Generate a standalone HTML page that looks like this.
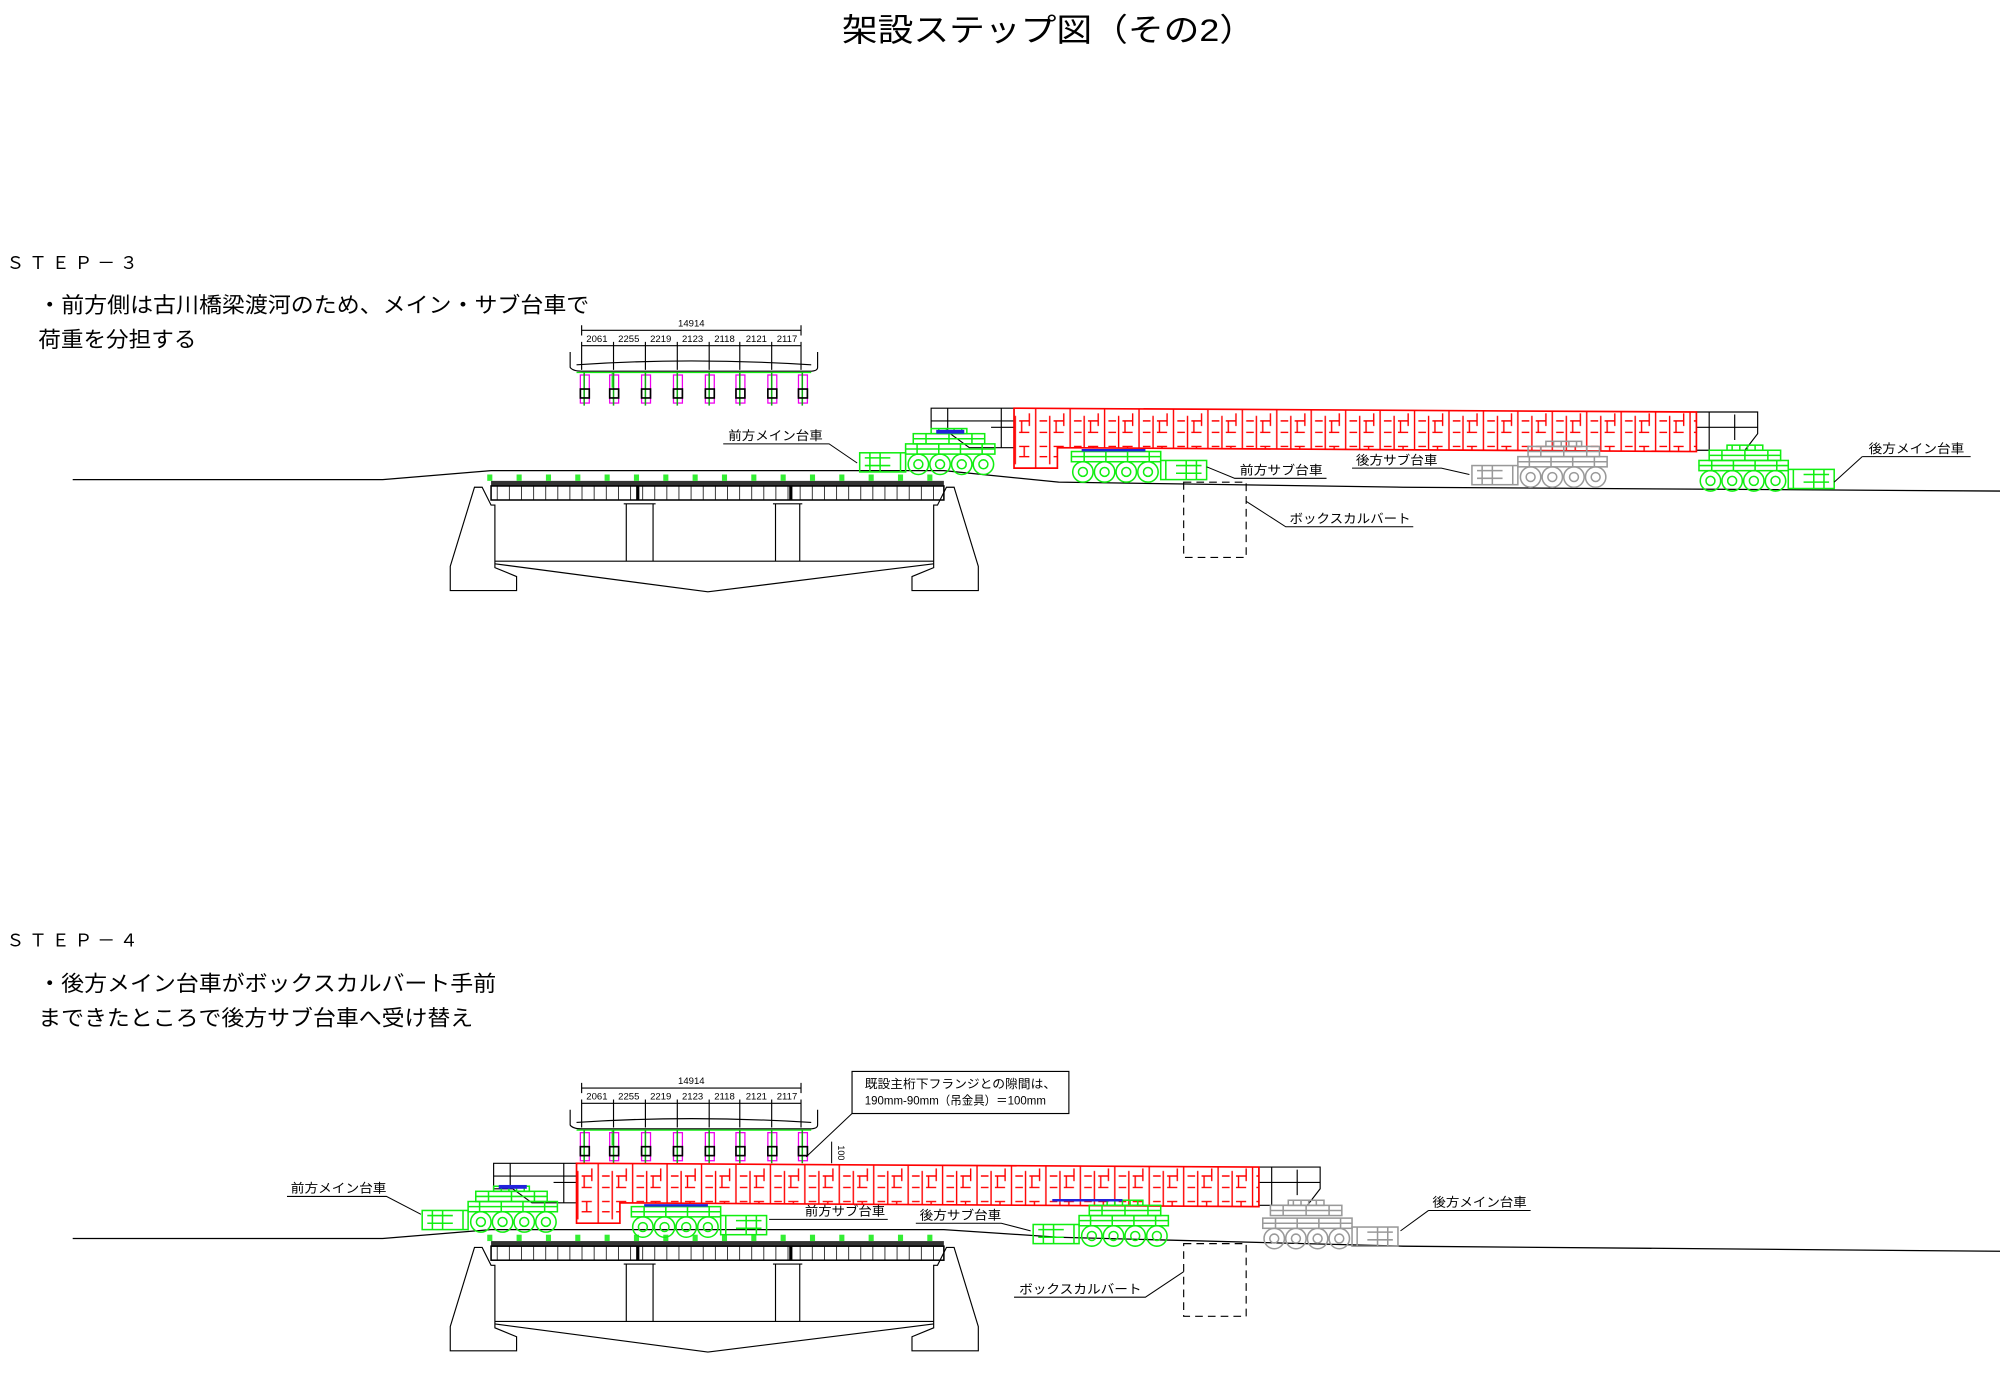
<!DOCTYPE html>
<html><head><meta charset="utf-8"><style>
html,body{margin:0;padding:0;background:#fff;}
svg{display:block;}
text{font-family:"Liberation Sans","Noto Sans CJK JP",sans-serif;fill:#000;}
</style></head><body>
<svg width="2000" height="1381" viewBox="0 0 1568 1082.7" xmlns="http://www.w3.org/2000/svg">
<defs>
<pattern id="rp" width="27" height="46" patternUnits="userSpaceOnUse">
 <g stroke="#f00" stroke-width="1.1" fill="none">
  <path d="M2 0V46M13 4V42M5 8H11M5 17H11M16 8H24M16 17H24M18 8V17M5 28H11M16 28H24M5 36H11M16 36H24M20 28V36M24 2V12"/>
 </g>
</pattern>
<pattern id="dk" width="9.5" height="20" patternUnits="userSpaceOnUse">
 <path d="M0 0V20" stroke="#000" stroke-width="1.2"/>
</pattern>
<g id="bogie">
 <g fill="none" stroke="currentColor" stroke-width="1.2">
  <rect x="0" y="0" width="70" height="8"/>
  <path d="M0 4H70M10 0V8M27 0V8M44 0V8M61 0V8"/>
  <rect x="70" y="7" width="36" height="15"/>
  <path d="M74 7V22M82 11H102M82 17H102M90 7V22M98 7V22"/>
  <circle cx="9" cy="16" r="8"/><circle cx="26" cy="16" r="8"/><circle cx="43" cy="16" r="8"/><circle cx="60" cy="16" r="8"/>
  <circle cx="9" cy="16" r="3.5"/><circle cx="26" cy="16" r="3.5"/><circle cx="43" cy="16" r="3.5"/><circle cx="60" cy="16" r="3.5"/>
 </g>
</g>
<g id="tower">
 <g fill="none" stroke="currentColor" stroke-width="1.2">
  <rect x="0" y="4" width="56" height="8"/>
  <rect x="14" y="0" width="28" height="4"/>
  <path d="M18 0V4M24 0V4M30 0V4M36 0V4M0 8H56M10 4V12M28 4V12M46 4V12"/>
 </g>
</g>
<g id="xsec">
 <g fill="none" stroke="#000" stroke-width="0.9">
  <path d="M456 259H628M456 255V263M628 255V263"/>
  <path d="M456 271H628M456 268V290M481 268V290M506 268V290M531 268V290M556 268V290M580 268V290M605 268V290M628 268V290"/>
  <path d="M447 276V288Q449 291 456 291H635Q641 291 641 288V276M452 286Q540 280 636 286"/>
 </g>
 <g stroke="#1e1" stroke-width="1" fill="none">
  <path d="M452 292H636M480 292V304M580 292V304"/>
 </g>
 <g id="hang">
  <rect x="455" y="294" width="7" height="22" fill="none" stroke="#e0e" stroke-width="1"/>
  <path d="M458 292V318" stroke="#1a1" stroke-width="1.2"/>
  <rect x="455" y="305" width="7" height="7" fill="none" stroke="#000" stroke-width="1.3"/>
 </g>
 <use href="#hang" x="23"/><use href="#hang" x="48"/><use href="#hang" x="73"/><use href="#hang" x="98"/><use href="#hang" x="122"/><use href="#hang" x="147"/><use href="#hang" x="171"/>
 <text x="542" y="256" font-size="7.5" text-anchor="middle">14914</text>
 <g font-size="7.5" text-anchor="middle">
  <text x="468" y="268">2061</text><text x="493" y="268">2255</text><text x="518" y="268">2219</text><text x="543" y="268">2123</text><text x="568" y="268">2118</text><text x="593" y="268">2121</text><text x="617" y="268">2117</text>
 </g>
</g>
<g id="bridge">
 <g fill="none" stroke="#000" stroke-width="0.9">
  <path d="M353 463V444L372 382H378L385 396H388V445L405 452V463Z"/>
  <path d="M767 463V444L748 382H742L735 396H732V445L715 452V463Z"/>
  <path d="M388 440H732M388 442L555 464L732 442"/>
  <path d="M491 395V440M512 395V440M608 395V440M627 395V440M489 395H514M606 395H629"/>
 </g>
 <rect x="385" y="377" width="355" height="4" fill="#333"/>
 <rect x="385" y="381" width="355" height="11" fill="url(#dk)" stroke="#000" stroke-width="1.2"/>
 <path d="M500 381V392M620 381V392" stroke="#000" stroke-width="2.5"/>
 <g fill="#3e3"><rect x="382" y="372" width="4" height="5"/><rect x="405" y="372" width="4" height="5"/><rect x="428" y="372" width="4" height="5"/><rect x="451" y="372" width="4" height="5"/><rect x="474" y="372" width="4" height="5"/><rect x="497" y="372" width="4" height="5"/><rect x="520" y="372" width="4" height="5"/><rect x="543" y="372" width="4" height="5"/><rect x="566" y="372" width="4" height="5"/><rect x="589" y="372" width="4" height="5"/><rect x="612" y="372" width="4" height="5"/><rect x="635" y="372" width="4" height="5"/><rect x="658" y="372" width="4" height="5"/><rect x="681" y="372" width="4" height="5"/><rect x="704" y="372" width="4" height="5"/><rect x="727" y="372" width="4" height="5"/></g>
</g>
<g id="girder">
 <g fill="none" stroke="#000" stroke-width="0.9">
  <path d="M730 320H795V351H760L745 340H730Z"/><path d="M743 320V340M785 320V351M730 330H795M777 335H795"/>
  <path d="M1330 323H1378V340L1368 353H1330Z"/><path d="M1340 323V353M1360 325V345M1330 335H1378"/>
 </g>
 <path d="M795 320L1330 323V354L829 351V367H795Z" fill="url(#rp)" stroke="#f00" stroke-width="1.3"/>
</g>
</defs>

<text x="822" y="32" font-size="25" text-anchor="middle" textLength="324" lengthAdjust="spacingAndGlyphs">架設ステップ図（その2）</text>

<!-- STEP 3 -->
<text x="5" y="211" font-size="14" textLength="103" lengthAdjust="spacing">ＳＴＥＰ－３</text>
<text x="30" y="245" font-size="17" textLength="432" lengthAdjust="spacingAndGlyphs">・前方側は古川橋梁渡河のため、メイン・サブ台車で</text>
<text x="30" y="272" font-size="17" textLength="124" lengthAdjust="spacingAndGlyphs">荷重を分担する</text>
<use href="#xsec"/>
<path d="M57 376H300L385 369H740L830 378L1100 382L1568 385" fill="none" stroke="#000" stroke-width="1"/>
<use href="#bridge"/>
<use href="#girder"/>
<rect x="928" y="378" width="49" height="59" fill="none" stroke="#000" stroke-width="0.9" stroke-dasharray="6,4"/>
<!-- carriages step3 -->
<g color="#1e1" transform="translate(780,348) scale(-1,1)"><use href="#bogie"/><use href="#tower" x="8" y="-12"/></g>
<rect x="734" y="337" width="22" height="3" fill="#22d"/>
<g color="#1e1"><use href="#bogie" x="840" y="354"/></g>
<path d="M848 353H898" stroke="#22d" stroke-width="2"/>
<g color="#999" transform="translate(1260,358) scale(-1,1)"><use href="#bogie"/><use href="#tower" x="6" y="-12"/></g>
<g color="#1e1" transform="translate(1332,361)"><use href="#bogie"/><use href="#tower" x="8" y="-12"/></g>
<!-- labels step3 -->
<g fill="none" stroke="#000" stroke-width="0.8">
 <path d="M567 348H650L672 363"/><path d="M946 366L968 375H1040"/><path d="M1060 367H1130L1152 372"/><path d="M1460 358H1545M1460 358L1438 378"/><path d="M977 393L1008 413H1108"/>
</g>
<text x="571" y="345" font-size="10" textLength="74" lengthAdjust="spacingAndGlyphs">前方メイン台車</text>
<text x="972" y="372" font-size="10" textLength="65" lengthAdjust="spacingAndGlyphs">前方サブ台車</text>
<text x="1063" y="364" font-size="10" textLength="64" lengthAdjust="spacingAndGlyphs">後方サブ台車</text>
<text x="1465" y="355" font-size="10" textLength="75" lengthAdjust="spacingAndGlyphs">後方メイン台車</text>
<text x="1011" y="410" font-size="10" textLength="95" lengthAdjust="spacingAndGlyphs">ボックスカルバート</text>

<!-- STEP 4 -->
<text x="5" y="742" font-size="14" textLength="103" lengthAdjust="spacing">ＳＴＥＰ－４</text>
<text x="30" y="777" font-size="17" textLength="359" lengthAdjust="spacingAndGlyphs">・後方メイン台車がボックスカルバート手前</text>
<text x="30" y="804" font-size="17" textLength="341" lengthAdjust="spacingAndGlyphs">まできたところで後方サブ台車へ受け替え</text>
<use href="#xsec" y="594"/>
<path d="M57 971H300L385 964H740L830 970L1100 977L1568 981" fill="none" stroke="#000" stroke-width="1"/>
<use href="#bridge" y="596"/>
<use href="#girder" x="-343" y="592"/>
<rect x="928" y="975" width="49" height="57" fill="none" stroke="#000" stroke-width="0.9" stroke-dasharray="6,4"/>
<rect x="668" y="840" width="170" height="33" fill="#fff" stroke="#000" stroke-width="0.9"/>
<text x="678" y="853" font-size="9.5" textLength="150" lengthAdjust="spacingAndGlyphs">既設主桁下フランジとの隙間は、</text>
<text x="678" y="866" font-size="9.5" textLength="142" lengthAdjust="spacingAndGlyphs">190mm-90mm（吊金具）＝100mm</text>
<path d="M668 873L632 907M652 895V912" stroke="#000" stroke-width="0.8" fill="none"/>
<text x="0" y="0" font-size="7" transform="translate(657,898) rotate(90)">100</text>
<g color="#1e1" transform="translate(437,942) scale(-1,1)"><use href="#bogie"/><use href="#tower" x="8" y="-12"/></g>
<rect x="391" y="929" width="22" height="3" fill="#22d"/>
<g color="#1e1"><use href="#bogie" x="495" y="946"/></g>
<path d="M505 945H555" stroke="#22d" stroke-width="2"/>
<g color="#1e1" transform="translate(916,953) scale(-1,1)"><use href="#bogie"/><use href="#tower" x="6" y="-12"/></g>
<path d="M825 941H880" stroke="#22d" stroke-width="2"/>
<g color="#999" transform="translate(990,955)"><use href="#bogie"/><use href="#tower" x="6" y="-14"/></g>
<g fill="none" stroke="#000" stroke-width="0.8">
 <path d="M225 938H303L330 952"/><path d="M603 956H696"/><path d="M718 959H785L808 965"/><path d="M1120 949H1200M1120 949L1098 965"/><path d="M928 997L898 1017H795"/>
</g>
<text x="228" y="935" font-size="10" textLength="75" lengthAdjust="spacingAndGlyphs">前方メイン台車</text>
<text x="631" y="953" font-size="10" textLength="63" lengthAdjust="spacingAndGlyphs">前方サブ台車</text>
<text x="721" y="956" font-size="10" textLength="64" lengthAdjust="spacingAndGlyphs">後方サブ台車</text>
<text x="1123" y="946" font-size="10" textLength="74" lengthAdjust="spacingAndGlyphs">後方メイン台車</text>
<text x="799" y="1014" font-size="10" textLength="96" lengthAdjust="spacingAndGlyphs">ボックスカルバート</text>
</svg>
</body></html>
